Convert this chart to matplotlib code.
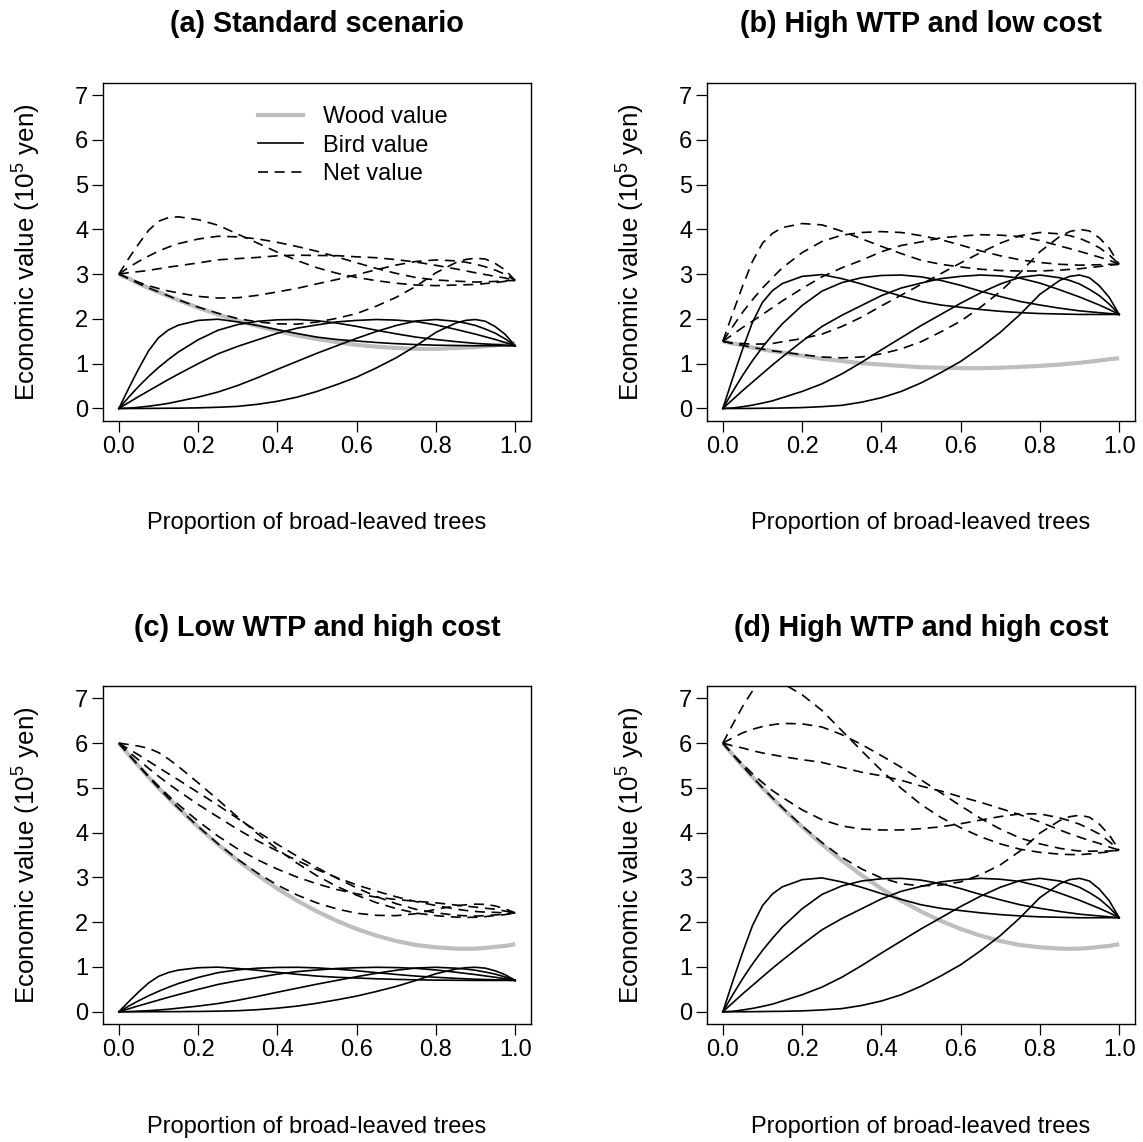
import matplotlib
matplotlib.use("Agg")
import matplotlib.pyplot as plt
from matplotlib.lines import Line2D
import numpy as np

plt.rcParams['font.family'] = ['Liberation Sans', 'DejaVu Sans']
plt.rcParams['mathtext.fontset'] = 'custom'
plt.rcParams['mathtext.rm'] = 'Liberation Sans'
plt.rcParams['mathtext.it'] = 'Liberation Sans:italic'
plt.rcParams['mathtext.bf'] = 'Liberation Sans:bold'

# ---------------- data ----------------
proportion = [0.000, 0.025, 0.050, 0.075, 0.100, 0.125, 0.150, 0.200, 0.250, 0.300,
              0.350, 0.400, 0.450, 0.500, 0.550, 0.600, 0.650, 0.700, 0.750, 0.800,
              0.850, 0.875, 0.900, 0.925, 0.950, 0.975, 1.000]

# bird value curves read at high WTP (10^5 yen)
bird_peak_020 = [0.00, 0.68, 1.33, 1.93, 2.37, 2.63, 2.79, 2.95, 2.99, 2.90,
                 2.78, 2.64, 2.51, 2.39, 2.31, 2.26, 2.21, 2.17, 2.14, 2.12,
                 2.11, 2.105, 2.10, 2.10, 2.10, 2.10, 2.10]
bird_peak_040 = [0.00, 0.38, 0.74, 1.07, 1.37, 1.64, 1.89, 2.30, 2.62, 2.81,
                 2.92, 2.97, 2.98, 2.94, 2.86, 2.75, 2.62, 2.50, 2.39, 2.31,
                 2.24, 2.21, 2.18, 2.16, 2.14, 2.12, 2.10]
bird_peak_065 = [0.00, 0.20, 0.40, 0.59, 0.78, 0.97, 1.15, 1.50, 1.83, 2.08,
                 2.30, 2.52, 2.69, 2.80, 2.90, 2.95, 2.98, 2.96, 2.91, 2.80,
                 2.65, 2.57, 2.49, 2.40, 2.31, 2.21, 2.10]
bird_peak_080 = [0.00, 0.01, 0.04, 0.075, 0.12, 0.17, 0.24, 0.38, 0.55, 0.77,
                 1.03, 1.31, 1.58, 1.85, 2.10, 2.35, 2.58, 2.78, 2.93, 2.98,
                 2.92, 2.86, 2.78, 2.66, 2.52, 2.33, 2.10]
bird_peak_090 = [0.00, 0.00, 0.00, 0.002, 0.005, 0.008, 0.01, 0.02, 0.04, 0.07,
                 0.14, 0.24, 0.38, 0.57, 0.80, 1.05, 1.36, 1.70, 2.10, 2.55,
                 2.86, 2.95, 2.98, 2.92, 2.74, 2.48, 2.10]

# wood value curves
wood_standard = [3.00, 2.90, 2.79, 2.69, 2.60, 2.51, 2.42, 2.25, 2.10, 1.96,
                 1.84, 1.73, 1.63, 1.55, 1.48, 1.42, 1.38, 1.35, 1.33, 1.33,
                 1.35, 1.36, 1.37, 1.39, 1.41, 1.44, 1.46]
wood_low_cost = [1.50, 1.45, 1.41, 1.36, 1.32, 1.28, 1.25, 1.18, 1.11, 1.06,
                 1.01, 0.98, 0.95, 0.92, 0.91, 0.90, 0.90, 0.91, 0.93, 0.95,
                 0.98, 1.00, 1.02, 1.045, 1.07, 1.10, 1.12]
wood_high_cost = [6.00, 5.74, 5.49, 5.24, 5.00, 4.77, 4.55, 4.13, 3.74, 3.38,
                  3.05, 2.75, 2.48, 2.24, 2.03, 1.85, 1.70, 1.58, 1.49, 1.44,
                  1.41, 1.406, 1.41, 1.425, 1.45, 1.47, 1.51]

# relative WTP of each scenario (bird curves scaled from high-WTP values)
wtp_scale = [2 / 3, 1.0, 1 / 3, 1.0]
titles = ["(a) Standard scenario", "(b) High WTP and low cost",
          "(c) Low WTP and high cost", "(d) High WTP and high cost"]
wood_by_panel = [wood_standard, wood_low_cost, wood_high_cost, wood_high_cost]
x_ticks = [0.0, 0.2, 0.4, 0.6, 0.8, 1.0]
x_tick_labels = ["0.0", "0.2", "0.4", "0.6", "0.8", "1.0"]
y_ticks = [0, 1, 2, 3, 4, 5, 6, 7]
legend_labels = ["Wood value", "Bird value", "Net value"]

bird_curves = [bird_peak_020, bird_peak_040, bird_peak_065, bird_peak_080, bird_peak_090]

# ---------------- figure ----------------
W, H = 1143, 1142
fig = plt.figure(figsize=(W / 100, H / 100), dpi=100)

ax_w = 428 / W
ax_h = 338.5 / H
positions = [(103 / W, 1 - 421 / H), (707 / W, 1 - 421 / H),
             (103 / W, 1 - 1024.3 / H), (707 / W, 1 - 1024.3 / H)]

GRAY = "#BEBEBE"
FS = 17
LW = 1.2
dash = (0, (6.0, 4.0))

x = np.array(proportion)
for i in range(4):
    ax = fig.add_axes([positions[i][0], positions[i][1], ax_w, ax_h])
    wood = np.array(wood_by_panel[i])
    ax.plot(x, wood, color=GRAY, lw=3.0, solid_capstyle='butt', zorder=2)
    for b in bird_curves:
        bird = np.array(b) * wtp_scale[i]
        ax.plot(x, bird, color="black", lw=LW, zorder=3)
    for b in bird_curves:
        net = wood + np.array(b) * wtp_scale[i]
        ax.plot(x, net, color="black", lw=LW, linestyle=dash, zorder=4)

    ax.set_xlim(-0.04, 1.04)
    ax.set_ylim(-0.28, 7.28)
    ax.set_xticks(x_ticks)
    ax.set_xticklabels(x_tick_labels)
    ax.set_yticks(y_ticks)
    ax.tick_params(direction='out', length=8, width=0.9, labelsize=FS, pad=2.5)
    for s in ax.spines.values():
        s.set_linewidth(1.0)
    ax.set_title(titles[i], fontsize=20.7, fontweight='bold', pad=36)
    ax.set_xlabel("Proportion of broad-leaved trees", fontsize=FS)
    ax.xaxis.set_label_coords(0.5, -0.27)
    ax.set_ylabel("Economic value (10$^{5}$ yen)", fontsize=18.7)
    ax.yaxis.set_label_coords(-0.14, 0.5)

    if i == 0:
        handles = [Line2D([], [], color=GRAY, lw=3.0),
                   Line2D([], [], color="black", lw=LW),
                   Line2D([], [], color="black", lw=LW, linestyle=dash)]
        ax.legend(handles, legend_labels, loc='upper left', bbox_to_anchor=(0.362, 0.93),
                  frameon=False, fontsize=FS, handlelength=1.9, handletextpad=0.85,
                  labelspacing=0.27, borderaxespad=0, borderpad=0)

fig.savefig("out.png", dpi=100)
